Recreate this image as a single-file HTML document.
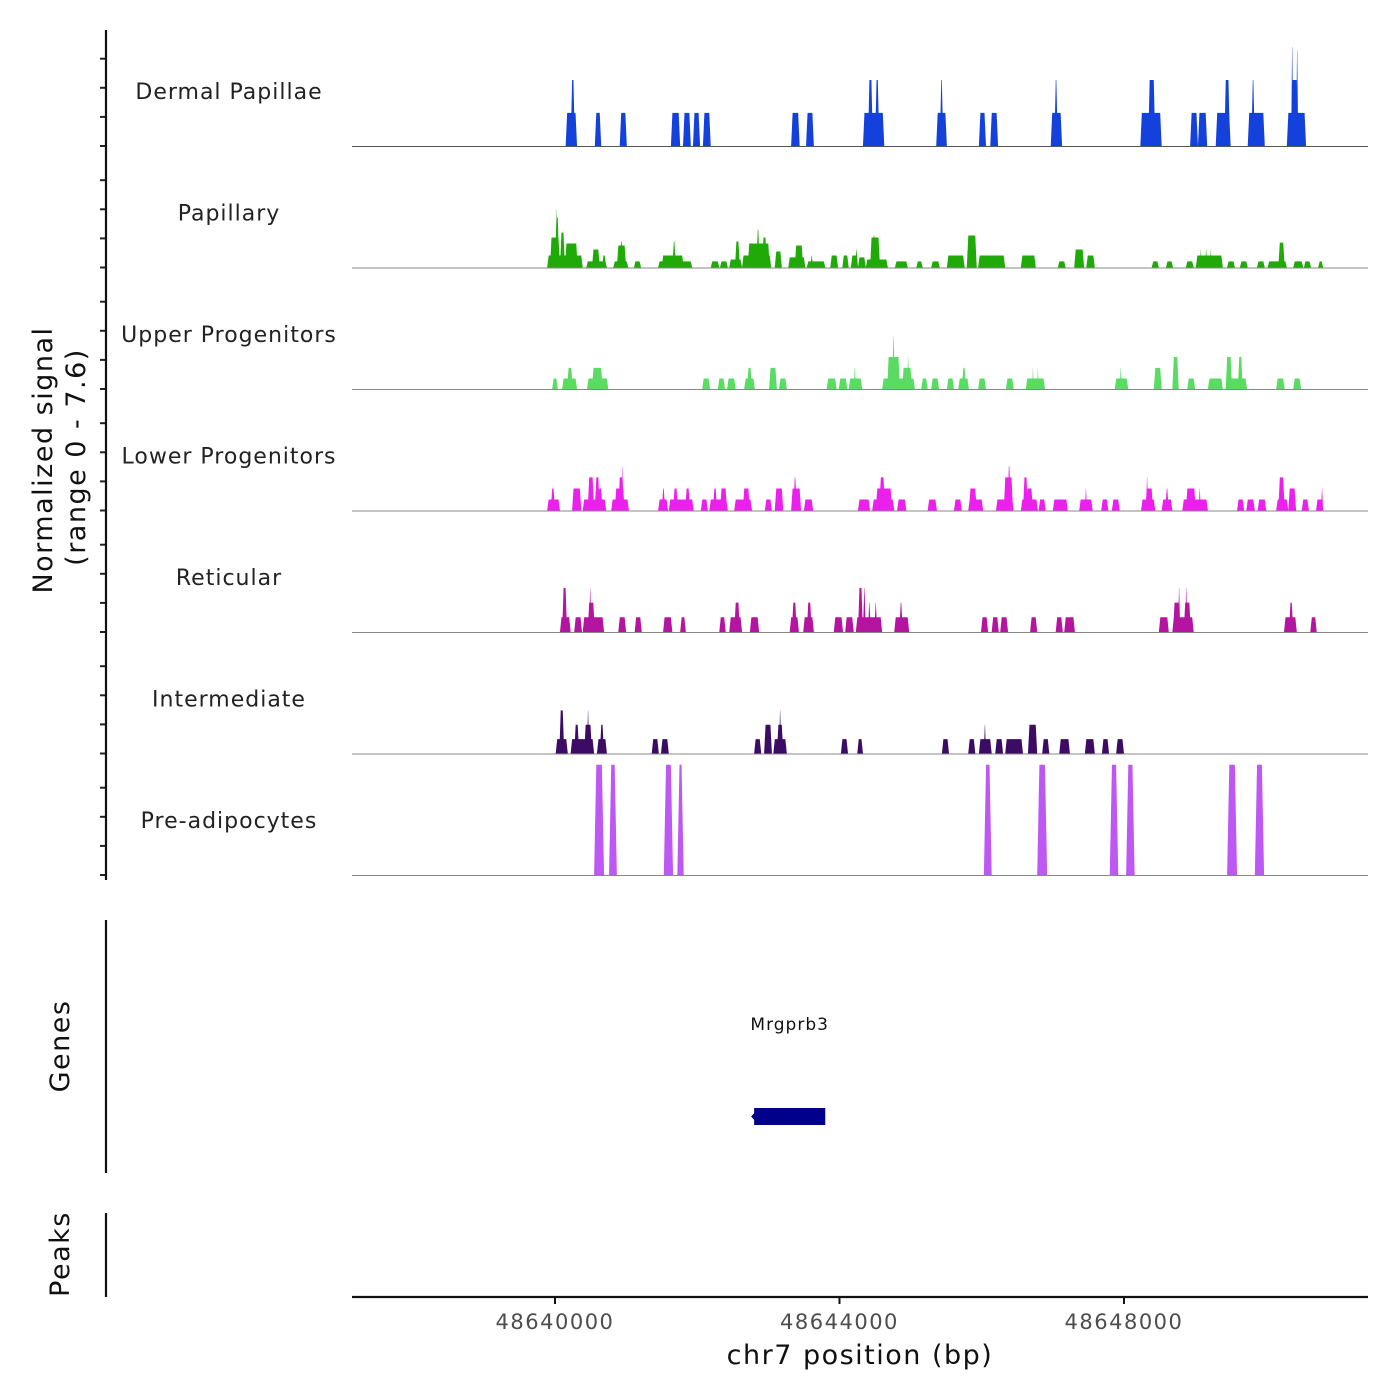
<!DOCTYPE html>
<html><head><meta charset="utf-8"><style>
html,body{margin:0;padding:0;background:#fff}
svg{display:block;font-family:"DejaVu Sans","Liberation Sans",sans-serif}
</style></head><body>
<svg id="chart" width="1400" height="1400" viewBox="0 0 1400 1400" xmlns="http://www.w3.org/2000/svg">
<g id="tracks"></g>
<g id="axes"></g>
</svg>
<script>
// positions in kb offset from 48,640,000 bp; values = normalized signal
const originBp = 48640000;
const xTickValues = [48640000, 48644000, 48648000];
const xTickLabels = ["48640000", "48644000", "48648000"];
const trackNames = ["Dermal Papillae","Papillary","Upper Progenitors","Lower Progenitors","Reticular","Intermediate","Pre-adipocytes"];
const signalMax = 7.6;
const dermalPeaks = [[0.15,0.31,2.07],[0.22,0.28,4.13],[0.56,0.65,2.07],[0.91,1.01,2.07],[1.63,1.76,2.07],[1.80,1.91,2.07],[1.94,2.04,2.07],[2.08,2.19,2.07],[3.32,3.44,2.07],[3.53,3.64,2.07],[4.33,4.63,2.07],[4.40,4.47,4.13],[4.50,4.56,4.13],[5.36,5.51,2.07],[5.41,5.46,4.13],[5.96,6.06,2.07],[6.12,6.23,2.07],[6.97,7.13,2.07],[7.02,7.07,4.13],[8.23,8.53,2.07],[8.34,8.44,4.13],[8.93,9.04,2.07],[9.04,9.17,2.07],[9.29,9.50,2.07],[9.41,9.49,4.13],[9.74,9.98,2.07],[9.79,9.84,4.13],[10.29,10.56,2.07],[10.35,10.45,4.13],[10.35,10.38,6.2],[10.42,10.45,6.0]];
const papillaryPeaks = [[-0.11,0.39,0.75],[-0.07,0.07,1.88],[0,0.06,3.13],[0.01,0.04,3.63],[0.07,0.14,2.19],[0.14,0.32,1.5],[0.44,0.73,0.38],[0.52,0.63,1.13],[0.66,0.72,0.75],[0.82,1.03,0.38],[0.87,1.00,1.38],[0.91,0.96,1.63],[1.11,1.21,0.38],[1.45,1.93,0.38],[1.50,1.81,0.75],[1.65,1.70,1.63],[2.19,2.31,0.38],[2.32,2.43,0.38],[2.45,2.63,0.5],[2.53,2.60,1.63],[2.63,3.04,0.75],[2.71,3.02,1.5],[2.83,2.88,2.38],[2.91,2.98,1.88],[3.09,3.19,1.0],[3.28,3.52,0.63],[3.37,3.49,1.38],[3.54,3.80,0.38],[3.59,3.63,0.75],[3.87,3.98,0.75],[4.04,4.13,0.75],[4.16,4.26,0.75],[4.22,4.26,1.13],[4.26,4.37,0.63],[4.37,4.68,0.5],[4.43,4.57,1.88],[4.46,4.51,2.0],[4.78,4.96,0.38],[5.08,5.17,0.38],[5.29,5.41,0.38],[5.51,5.76,0.75],[5.79,5.93,2.0],[5.95,6.33,0.75],[6.55,6.76,0.75],[7.07,7.18,0.38],[7.30,7.44,1.13],[7.47,7.59,0.75],[8.39,8.49,0.38],[8.59,8.69,0.38],[8.87,8.98,0.38],[9.01,9.39,0.75],[9.07,9.09,1.13],[9.14,9.17,1.13],[9.21,9.23,1.13],[9.45,9.56,0.38],[9.63,9.74,0.38],[9.87,9.98,0.38],[10.02,10.29,0.38],[10.17,10.26,1.56],[10.38,10.52,0.38],[10.53,10.63,0.38],[10.73,10.80,0.38]];
const upperPeaks = [[-0.04,0.04,0.66],[0.10,0.31,0.66],[0.17,0.25,1.32],[0.45,0.75,0.66],[0.52,0.67,1.32],[2.07,2.18,0.66],[2.29,2.39,0.66],[2.42,2.54,0.66],[2.66,2.81,0.66],[2.70,2.77,1.32],[3.01,3.12,1.32],[3.15,3.26,0.66],[3.82,3.96,0.66],[3.99,4.11,0.66],[4.13,4.32,0.66],[4.20,4.23,1.32],[4.60,5.06,0.66],[4.67,4.85,2.0],[4.74,4.78,3.3],[4.88,5.02,1.32],[4.95,4.98,2.0],[5.15,5.24,0.66],[5.29,5.40,0.66],[5.51,5.61,0.66],[5.67,5.82,0.66],[5.72,5.78,1.32],[5.95,6.06,0.66],[6.34,6.45,0.66],[6.62,6.89,0.66],[6.71,6.73,1.32],[6.78,6.80,1.32],[7.87,8.06,0.66],[7.94,7.97,1.32],[8.42,8.53,1.32],[8.68,8.77,2.0],[8.89,9.00,0.66],[9.18,9.39,0.66],[9.43,9.73,0.66],[9.43,9.52,2.0],[9.60,9.67,2.0],[10.14,10.26,0.66],[10.38,10.49,0.66]];
const lowerPeaks = [[-0.11,0.07,0.69],[-0.06,0,1.38],[0.24,0.37,1.38],[0.39,0.72,0.69],[0.46,0.55,2.07],[0.56,0.63,2.07],[0.60,0.67,1.38],[0.79,1.04,0.69],[0.84,0.98,1.38],[0.89,0.97,2.07],[0.93,0.96,2.76],[1.45,1.59,0.69],[1.50,1.55,1.38],[1.60,1.95,0.69],[1.66,1.73,1.38],[1.83,1.90,1.38],[2.05,2.15,0.69],[2.17,2.43,0.69],[2.22,2.28,1.38],[2.32,2.42,1.38],[2.52,2.77,0.69],[2.64,2.74,1.38],[2.95,3.05,0.69],[3.09,3.21,1.38],[3.32,3.46,1.38],[3.35,3.40,2.07],[3.50,3.63,0.69],[4.26,4.43,0.69],[4.46,4.77,0.69],[4.51,4.71,1.38],[4.56,4.64,2.07],[4.67,4.74,1.38],[4.81,4.94,0.69],[5.24,5.37,0.69],[5.61,5.72,0.69],[5.81,6.02,0.69],[5.82,5.93,1.38],[6.20,6.45,0.69],[6.31,6.44,2.07],[6.36,6.41,2.76],[6.55,6.79,0.69],[6.58,6.65,2.07],[6.62,6.72,1.38],[6.80,6.90,0.69],[7.00,7.21,0.69],[7.37,7.56,0.69],[7.45,7.48,1.38],[7.68,7.78,0.69],[7.83,7.94,0.69],[8.24,8.44,0.69],[8.30,8.41,1.38],[8.31,8.34,2.07],[8.53,8.68,0.69],[8.58,8.63,1.38],[8.82,9.18,0.69],[8.87,9.01,1.38],[9.05,9.08,1.38],[9.59,9.69,0.69],[9.72,9.84,0.69],[9.88,10.00,0.69],[10.14,10.31,0.69],[10.17,10.26,2.07],[10.31,10.42,1.38],[10.50,10.60,0.69],[10.70,10.80,0.69],[10.77,10.80,1.38]];
const reticularPeaks = [[0.07,0.22,0.92],[0.10,0.17,2.76],[0.27,0.38,0.92],[0.39,0.69,0.92],[0.46,0.56,1.84],[0.48,0.51,2.76],[0.89,1.00,0.92],[1.12,1.22,0.92],[1.52,1.65,0.92],[1.76,1.84,0.92],[2.31,2.40,0.92],[2.45,2.63,0.92],[2.52,2.60,1.84],[2.74,2.87,0.92],[3.30,3.43,0.92],[3.33,3.40,1.84],[3.49,3.64,0.92],[3.54,3.61,1.84],[3.92,4.05,0.92],[4.08,4.20,0.92],[4.23,4.60,0.92],[4.26,4.33,2.76],[4.33,4.37,2.76],[4.40,4.44,1.84],[4.49,4.53,1.84],[4.77,4.98,0.92],[4.84,4.89,1.84],[5.99,6.09,0.92],[6.14,6.24,0.92],[6.26,6.37,0.92],[6.68,6.78,0.92],[7.04,7.14,0.92],[7.16,7.31,0.92],[8.49,8.63,0.92],[8.68,8.98,0.92],[8.69,8.79,1.84],[8.76,8.79,2.76],[8.84,8.94,1.84],[8.86,8.89,2.76],[10.25,10.43,0.92],[10.32,10.38,1.84],[10.62,10.71,0.92]];
const intermediatePeaks = [[0.01,0.18,0.9],[0.06,0.13,2.7],[0.22,0.55,0.9],[0.27,0.34,1.8],[0.41,0.52,1.8],[0.45,0.48,2.7],[0.59,0.73,0.9],[0.63,0.69,1.8],[1.36,1.46,0.9],[1.49,1.60,0.9],[2.80,2.90,0.9],[2.94,3.05,1.8],[3.07,3.26,0.9],[3.12,3.21,1.8],[3.15,3.18,2.7],[4.02,4.12,0.9],[4.25,4.33,0.9],[5.44,5.54,0.9],[5.81,5.91,0.9],[5.96,6.14,0.9],[6.03,6.06,1.8],[6.19,6.30,0.9],[6.33,6.58,0.9],[6.65,6.78,1.8],[6.85,6.95,0.9],[7.09,7.24,0.9],[7.45,7.59,0.9],[7.69,7.79,0.9],[7.89,8.00,0.9]];
const preadipocytePeaks = [[0.55,0.69,6.9],[0.76,0.87,6.9],[1.53,1.66,6.9],[1.72,1.81,6.9],[6.03,6.14,6.9],[6.78,6.92,6.9],[7.80,7.92,6.9],[8.03,8.15,6.9],[9.45,9.59,6.9],[9.84,9.97,6.9]];
const geneName = "Mrgprb3";
const geneStartKb = 2.80, geneEndKb = 3.80;

const trackData = [dermalPeaks,papillaryPeaks,upperPeaks,lowerPeaks,reticularPeaks,intermediatePeaks,preadipocytePeaks];
const trackColors = ["#1440DC","#20AA08","#5ADC64","#EC20EC","#B4149F","#3C0C64","#BE58F4"];
const trackSlug = ["dermal-papillae","papillary","upper-progenitors","lower-progenitors","reticular","intermediate","pre-adipocytes"];
const NS="http://www.w3.org/2000/svg";
const plotL=352, plotR=1368;
const domMin=48637146, domMax=48651431;
function xScale(bp){return plotL+(bp-domMin)/(domMax-domMin)*(plotR-plotL);}
function xKb(kb){return xScale(originBp+kb*1000);}
const trackH=121.4, firstBase=146, trackStep=121.5;
function yScale(v,base){return base - v/signalMax*trackH;}
function mk(tag,attrs,parent){const e=document.createElementNS(NS,tag);for(const k in attrs)e.setAttribute(k,attrs[k]);parent.appendChild(e);return e;}
const tracksG=document.getElementById('tracks');
const axesG=document.getElementById('axes');
trackData.forEach((peaks,i)=>{
  const base=firstBase+i*trackStep;
  const g=mk('g',{},tracksG);
  
  
  const lab=mk('text',{x:229,y:base-47,'text-anchor':'middle','font-size':22,fill:'#222','letter-spacing':'1'},g);
  lab.textContent=trackNames[i];
  
  
  const sl = i===6?2.2:1.5;
  peaks.forEach(p=>{
    const x1=xKb(p[0]),x2=xKb(p[1]),yt=yScale(p[2],base);
    const s=Math.min(sl,(x2-x1)/2.2);
    const poly=mk('polygon',{points:`${x1},${base} ${x1+s},${yt} ${x2-s},${yt} ${x2},${base}`,fill:trackColors[i]},g);
    
    
  });
  const bl=mk('line',{x1:plotL,x2:plotR,y1:base+0.5,y2:base+0.5,stroke:i===0?'#555':'#888','stroke-width':1},g);
  
  
  for(let k=0;k<4;k++){
    const ty=base-k*29.1;
    const t=mk('line',{x1:100,x2:106,y1:ty,y2:ty,stroke:'#222','stroke-width':2},axesG);
    
    
  }
});
[[30,880],[920,1173],[1213,1297]].forEach((r,j)=>{
  const l=mk('line',{x1:106,x2:106,y1:r[0],y2:r[1],stroke:'#111','stroke-width':2.2},axesG);
  
  
});
function rotText(txt,x,y,size,name){
  const t=mk('text',{x:x,y:y,'text-anchor':'middle','font-size':size,fill:'#111','letter-spacing':'1.5',transform:`rotate(-90 ${x} ${y})`},axesG);
  t.textContent=txt;
  
  
}
rotText('Normalized signal',52,460,27,'y-axis-title');
rotText('(range 0 - 7.6)',85,457,27,'y-axis-range');
rotText('Genes',69,1046,27,'genes-axis-title');
rotText('Peaks',69,1254,27,'peaks-axis-title');
const gl=mk('text',{x:(xKb(geneStartKb)+xKb(geneEndKb))/2,y:1030,'text-anchor':'middle','font-size':17,fill:'#111','letter-spacing':'1'},axesG);
gl.textContent=geneName;


const gr=mk('rect',{x:xKb(geneStartKb),y:1108,width:xKb(geneEndKb)-xKb(geneStartKb),height:17,fill:'#00008B'},axesG);


const ga=mk('polygon',{points:`${xKb(geneStartKb)-3},1116.5 ${xKb(geneStartKb)+2},1111 ${xKb(geneStartKb)+2},1122`,fill:'#00008B'},axesG);


const xa=mk('line',{x1:plotL,x2:plotR,y1:1297,y2:1297,stroke:'#111','stroke-width':2.2},axesG);


xTickValues.forEach((v,i)=>{
  const x=xScale(v);
  const t=mk('line',{x1:x,x2:x,y1:1297,y2:1304,stroke:'#111','stroke-width':2},axesG);
  
  
  const tl=mk('text',{x:x,y:1329,'text-anchor':'middle','font-size':21,fill:'#4d4d4d','letter-spacing':'1.5'},axesG);
  tl.textContent=xTickLabels[i];
  
  
});
const xt=mk('text',{x:860,y:1364,'text-anchor':'middle','font-size':27,fill:'#111','letter-spacing':'1.5'},axesG);
xt.textContent='chr7 position (bp)';


</script>
</body></html>
